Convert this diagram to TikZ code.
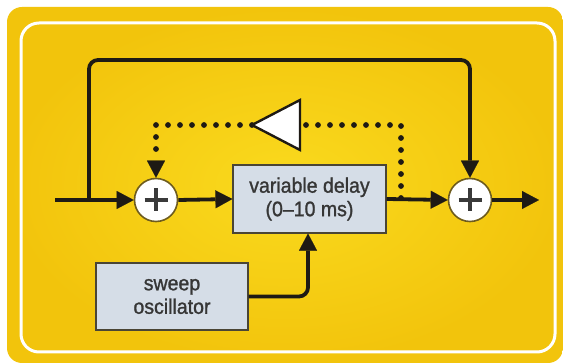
\documentclass[tikz,border=0pt]{standalone}
\usepackage{fontspec}
\setmainfont{Liberation Sans}[FakeStretch=0.93,FakeBold=1.2]
\usetikzlibrary{arrows.meta,calc}
\definecolor{lineblk}{HTML}{1E1A14}
\definecolor{boxfill}{HTML}{D5DDE7}
\definecolor{boxedge}{HTML}{4A4535}
\definecolor{txt}{HTML}{363636}
\definecolor{ringcol}{HTML}{6E5C1E}
\definecolor{plusgray}{HTML}{3A3A3A}
\definecolor{bgin}{HTML}{FADA1E}
\definecolor{bgout}{HTML}{F2C40C}
\begin{document}
\begin{tikzpicture}[x=1pt,y=-1pt,
  line/.style={draw=lineblk, line width=3.8pt},
  dotline/.style={draw=lineblk, line width=5.8pt, line cap=round, dash pattern=on 0pt off 12pt},
  procbox/.style={draw=boxedge, line width=1.2pt, fill=boxfill, text=txt, align=center,
    font=\fontsize{21}{23.5}\selectfont, inner sep=0pt},
  adder/.style={circle, draw=ringcol, line width=1.6pt, fill=white, minimum size=43pt, inner sep=0pt,
    path picture={\draw[draw=plusgray, line width=4.6pt]
      ($(path picture bounding box.center)+(-11.5,0)$) -- ($(path picture bounding box.center)+(11.5,0)$)
      ($(path picture bounding box.center)+(0,-11.5)$) -- ($(path picture bounding box.center)+(0,11.5)$);}},
  >={Triangle[length=17pt,width=18pt,line width=0.1pt]}
]
\useasboundingbox (0,0) rectangle (563,363);
\fill[white] (0,0) rectangle (563,363);
% background panel
\path[rounded corners=15pt, inner color=bgin, outer color=bgout] (7,7) rectangle (563,363);
\draw[white, line width=3pt, rounded corners=18pt] (21,23) rectangle (555,352);

% nodes
\node[adder] (s1) at (156,200) {};
\node[adder] (s2) at (470,200) {};
\node[procbox, minimum width=153pt, minimum height=68pt] (delay) at (309.5,199) {variable delay\\(0–10 ms)};
\node[procbox, minimum width=152pt, minimum height=67pt] (osc) at (172,296.5) {sweep\\oscillator};

\coordinate (in) at (55,200);
\coordinate (br) at (89,200);
\coordinate (out) at (539,200);
\coordinate (tap) at (401,198);
\coordinate (amptip) at (252,125);
\coordinate (ampbase) at (300,125);
\coordinate (ampup) at (300,100);
\coordinate (ampdn) at (300,150);

% main signal path
\draw[line,->] (in) -- (s1.west);
\draw[line,->, rounded corners=9pt] (br) -- ++(0,-140) -| (s2.north);
\draw[line,->] (s1.east) -- (delay.west);
\draw[line,->] (delay.east) -- (s2.west);
\draw[line,->] (s2.east) -- (out);
\draw[line,->, rounded corners=9pt] (osc.east) -| ($(delay.south)+(-1.5,0)$);

% dotted feedback
\draw[dotline] (tap) |- ($(ampbase)+(6,0)$);
\draw[dotline,->] (amptip) -| (s1.north);
\draw[draw=lineblk, line width=2.4pt, fill=white, line join=miter] (amptip) -- (ampup) -- (ampdn) -- cycle;
\end{tikzpicture}
\end{document}
